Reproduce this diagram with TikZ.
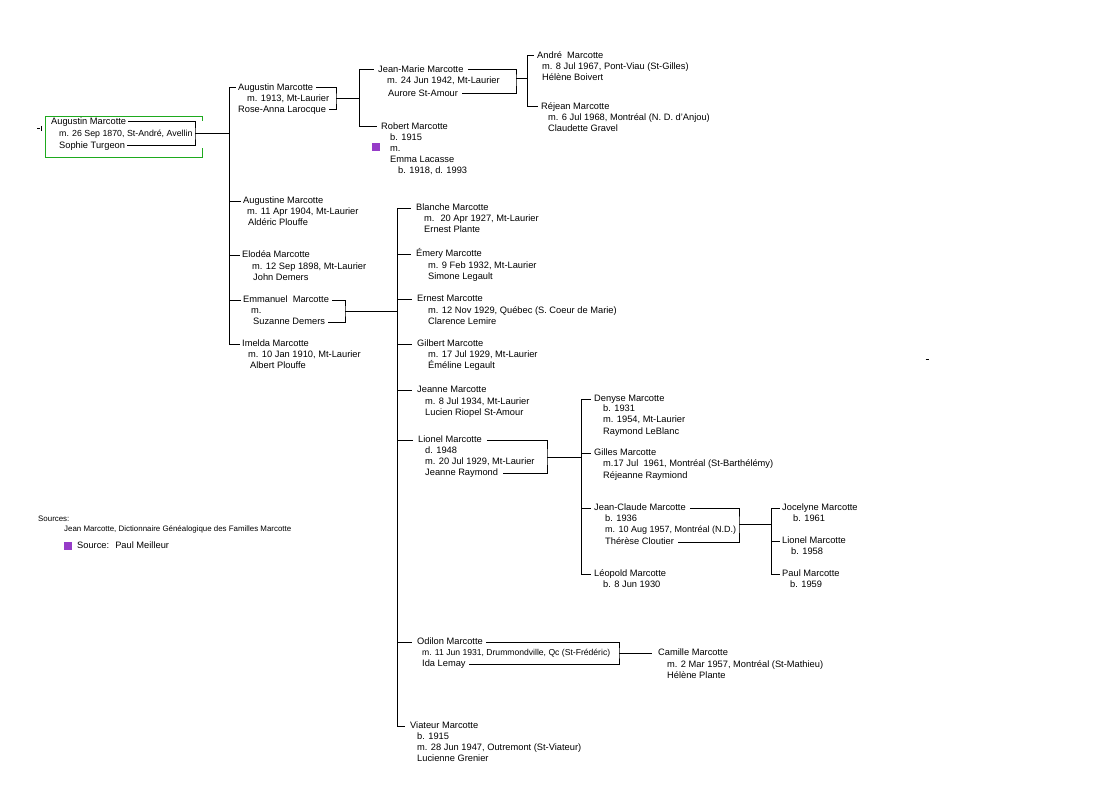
\documentclass[tikz,border=0pt]{standalone}
\usepackage{fontspec}
\setmainfont{Liberation Sans}
\newcommand{\mfs}{\fontsize{9.3}{11}\selectfont}
\newcommand{\sfs}{\fontsize{7.9}{9}\selectfont}
\definecolor{boxgreen}{RGB}{30,170,30}
\definecolor{srcmark}{RGB}{150,60,200}
\tikzset{
  txt/.style={anchor=west, inner sep=0pt, text height=6.5pt, text depth=1.8pt, font=\mfs},
  smalltxt/.style={txt, font=\sfs},
  conn/.style={line width=1pt, black},
}
\begin{document}
\begin{tikzpicture}[x=1pt,y=-1pt]
\fill[white] (0,0) rectangle (1098,789);
\useasboundingbox (0,0) rectangle (1098,789);

% ---------- root ----------
\node[txt] (r1) at (51,122) {Augustin Marcotte};
\node[txt, font={\fontsize{8.8}{11}\selectfont}] (r2) at (59,134) {m. 26 Sep 1870, St-André, Avellin};
\node[txt] (r3) at (59,146) {Sophie Turgeon};
\draw[boxgreen, line width=1pt] (202,121) -- (202,117) -- (45,117) -- (45,158) -- (202,158) -- (202,148);
\draw[line width=0.8pt] (37,128) -- (39.5,128);
\draw[line width=0.8pt] (41,126) -- (41,131);

% ---------- children of root ----------
\node[txt] (a1) at (238,88) {Augustin Marcotte};
\node[txt] (a2) at (247,99) {m. 1913, Mt-Laurier};
\node[txt] (a3) at (238,110) {Rose-Anna Larocque};

\node[txt] (g1) at (243,201) {Augustine Marcotte};
\node[txt] (g2) at (247,212) {m. 11 Apr 1904, Mt-Laurier};
\node[txt] (g3) at (248,223) {Aldéric Plouffe};

\node[txt] (e1) at (242,255) {Elodéa Marcotte};
\node[txt] (e2) at (252,267) {m. 12 Sep 1898, Mt-Laurier};
\node[txt] (e3) at (253,278) {John Demers};

\node[txt] (m1) at (243,300) {Emmanuel~ Marcotte};
\node[txt] (m2) at (251,311) {m.};
\node[txt] (m3) at (253,322) {Suzanne Demers};

\node[txt] (i1) at (242,344) {Imelda Marcotte};
\node[txt] (i2) at (248,355) {m. 10 Jan 1910, Mt-Laurier};
\node[txt] (i3) at (250,366) {Albert Plouffe};

% ---------- children of Augustin (1913) ----------
\node[txt] (j1) at (378,70) {Jean-Marie Marcotte};
\node[txt] (j2) at (387,81) {m. 24 Jun 1942, Mt-Laurier};
\node[txt] (j3) at (388,94) {Aurore St-Amour};

\node[txt] (ro1) at (381,127) {Robert Marcotte};
\node[txt] (ro2) at (390,138) {b. 1915};
\node[txt] (ro3) at (390,149) {m.};
\node[txt] (ro4) at (390,160) {Emma Lacasse};
\node[txt] (ro5) at (398,171) {b. 1918, d. 1993};
\fill[srcmark] (372,143) rectangle (380,151);

% ---------- children of Jean-Marie ----------
\node[txt] (an1) at (537,56) {André~ Marcotte};
\node[txt] (an2) at (542,67) {m. 8 Jul 1967, Pont-Viau (St-Gilles)};
\node[txt] (an3) at (542,78) {Hélène Boivert};

\node[txt] (re1) at (541,107) {Réjean Marcotte};
\node[txt] (re2) at (548,118) {m. 6 Jul 1968, Montréal (N. D. d'Anjou)};
\node[txt] (re3) at (548,129) {Claudette Gravel};

% ---------- children of Emmanuel ----------
\node[txt] (b1) at (416,208) {Blanche Marcotte};
\node[txt] (b2) at (424,219) {m.~ 20 Apr 1927, Mt-Laurier};
\node[txt] (b3) at (424,230) {Ernest Plante};

\node[txt] (em1) at (416,254) {Émery Marcotte};
\node[txt] (em2) at (428,266) {m. 9 Feb 1932, Mt-Laurier};
\node[txt] (em3) at (428,277) {Simone Legault};

\node[txt] (er1) at (417,299) {Ernest Marcotte};
\node[txt] (er2) at (428,311) {m. 12 Nov 1929, Québec (S. Coeur de Marie)};
\node[txt] (er3) at (428,322) {Clarence Lemire};

\node[txt] (gi1) at (417,344) {Gilbert Marcotte};
\node[txt] (gi2) at (428,355) {m. 17 Jul 1929, Mt-Laurier};
\node[txt] (gi3) at (428,366) {Éméline Legault};

\node[txt] (je1) at (417,390) {Jeanne Marcotte};
\node[txt] (je2) at (425,402) {m. 8 Jul 1934, Mt-Laurier};
\node[txt] (je3) at (425,413) {Lucien Riopel St-Amour};

\node[txt] (l1) at (418,440) {Lionel Marcotte};
\node[txt] (l2) at (425,451) {d. 1948};
\node[txt] (l3) at (425,462) {m. 20 Jul 1929, Mt-Laurier};
\node[txt] (l4) at (425,473) {Jeanne Raymond};

\node[txt] (o1) at (417,642) {Odilon Marcotte};
\node[txt, font={\fontsize{8.6}{11}\selectfont}] (o2) at (422,653) {m. 11 Jun 1931, Drummondville, Qc (St-Frédéric)};
\node[txt] (o3) at (422,664) {Ida Lemay};

\node[txt] (v1) at (410,726) {Viateur Marcotte};
\node[txt] (v2) at (417,737) {b. 1915};
\node[txt] (v3) at (417,748) {m. 28 Jun 1947, Outremont (St-Viateur)};
\node[txt] (v4) at (417,759) {Lucienne Grenier};

% ---------- children of Lionel ----------
\node[txt] (d1) at (594,399) {Denyse Marcotte};
\node[txt] (d2) at (603,409) {b. 1931};
\node[txt] (d3) at (603,420) {m. 1954, Mt-Laurier};
\node[txt] (d4) at (603,432) {Raymond LeBlanc};

\node[txt] (gl1) at (594,453) {Gilles Marcotte};
\node[txt] (gl2) at (603,464) {m.17 Jul~ 1961, Montréal (St-Barthélémy)};
\node[txt] (gl3) at (603,476) {Réjeanne Raymiond};

\node[txt] (jc1) at (594,508) {Jean-Claude Marcotte};
\node[txt] (jc2) at (605,519) {b. 1936};
\node[txt, font={\fontsize{9}{11}\selectfont}] (jc3) at (605,530) {m. 10 Aug 1957, Montréal (N.D.)};
\node[txt] (jc4) at (605,542) {Thérèse Cloutier};

\node[txt] (lp1) at (594,574) {Léopold Marcotte};
\node[txt] (lp2) at (603,585) {b. 8 Jun 1930};

% ---------- children of Jean-Claude ----------
\node[txt] (jo1) at (782,508) {Jocelyne Marcotte};
\node[txt] (jo2) at (793,519) {b. 1961};
\node[txt] (li1) at (782,541) {Lionel Marcotte};
\node[txt] (li2) at (791,552) {b. 1958};
\node[txt] (pa1) at (782,574) {Paul Marcotte};
\node[txt] (pa2) at (790,585) {b. 1959};

% ---------- child of Odilon ----------
\node[txt] (c1) at (658,653) {Camille Marcotte};
\node[txt] (c2) at (667,665) {m. 2 Mar 1957, Montréal (St-Mathieu)};
\node[txt] (c3) at (667,676) {Hélène Plante};

% ---------- sources ----------
\node[smalltxt] (s1) at (38,519) {Sources:};
\node[smalltxt] (s2) at (64,529) {Jean Marcotte, Dictionnaire Généalogique des Familles Marcotte};
\fill[srcmark] (64,542) rectangle (72,550);
\node[txt] (s3) at (77,546) {Source:~ Paul Meilleur};

\draw[line width=1pt] (925.5,359) -- (928.5,359);

% ---------- brackets and trunks ----------
\coordinate (rbr) at (195,134);
\coordinate (T0) at (229,0);
\coordinate (abr) at (336,99);
\coordinate (T1) at (359,0);
\coordinate (jbr) at (516,79);
\coordinate (T2) at (527,0);
\coordinate (mbr) at (345,311);
\coordinate (T3) at (397,0);
\coordinate (lbr) at (547,457);
\coordinate (T4) at (581,0);
\coordinate (jcbr) at (739,524);
\coordinate (T5) at (771,0);
\coordinate (obr) at (619,653);

% root
\draw[conn] ([xshift=2pt]r1.east) -| (rbr) |- ([xshift=2pt]r3.east);
\draw[conn] (rbr) -- (rbr -| T0);
\draw[conn] (a1.west -| T0) -- (i1.west -| T0);
\foreach \n in {a1,g1,e1,m1,i1} \draw[conn] (\n.west -| T0) -- ([xshift=-2pt]\n.west);

% Augustin 1913
\draw[conn] ([xshift=3pt]a1.east) -| (abr) |- ([xshift=3pt]a3.east);
\draw[conn] (abr) -- (abr -| T1);
\draw[conn] (j1.west -| T1) -- (ro1.west -| T1);
\foreach \n in {j1,ro1} \draw[conn] (\n.west -| T1) -- ([xshift=-4pt]\n.west);

% Jean-Marie
\draw[conn] ([xshift=4pt]j1.east) -| (jbr) |- ([xshift=4pt]j3.east);
\draw[conn] (jbr) -- (jbr -| T2);
\draw[conn] (an1.west -| T2) -- (re1.west -| T2);
\foreach \n in {an1,re1} \draw[conn] (\n.west -| T2) -- ([xshift=-3pt]\n.west);

% Emmanuel
\draw[conn] ([xshift=3pt]m1.east) -| (mbr) |- ([xshift=3pt]m3.east);
\draw[conn] (mbr) -- (mbr -| T3);
\draw[conn] (b1.west -| T3) -- (v1.west -| T3);
\foreach \n in {b1,em1,er1,gi1,je1,l1,o1,v1} \draw[conn] (\n.west -| T3) -- ([xshift=-5pt]\n.west);

% Lionel
\draw[conn] ([xshift=5pt]l1.east) -| (lbr) |- ([xshift=5pt]l4.east);
\draw[conn] (lbr) -- (lbr -| T4);
\draw[conn] (d1.west -| T4) -- (lp1.west -| T4);
\foreach \n in {d1,gl1,jc1,lp1} \draw[conn] (\n.west -| T4) -- ([xshift=-3pt]\n.west);

% Jean-Claude
\draw[conn] ([xshift=4pt]jc1.east) -| (jcbr) |- ([xshift=4pt]jc4.east);
\draw[conn] (jcbr) -- (jcbr -| T5);
\draw[conn] (jo1.west -| T5) -- (pa1.west -| T5);
\foreach \n in {jo1,li1,pa1} \draw[conn] (\n.west -| T5) -- ([xshift=-2pt]\n.west);

% Odilon
\draw[conn] ([xshift=3pt]o1.east) -| (obr) |- ([xshift=3pt]o3.east);
\draw[conn] (obr) -- ([xshift=-6pt]c1.west);
\end{tikzpicture}
\end{document}
